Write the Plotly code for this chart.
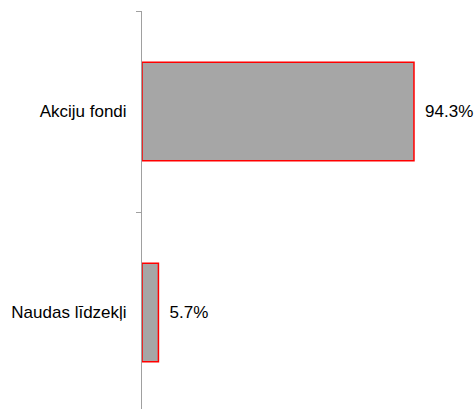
import plotly.graph_objects as go

categories = ["Akciju fondi", "Naudas līdzekļi"]
values = [94.3, 5.7]
labels = ["94.3%", "5.7%"]

fig = go.Figure(
    go.Bar(
        x=values,
        y=categories,
        orientation="h",
        text=["\u00a0\u2009" + t for t in labels],
        textposition="outside",
        cliponaxis=False,
        textfont=dict(family="Liberation Sans, Arial", size=17, color="black"),
        marker=dict(color="#A6A6A6", line=dict(color="#FF0000", width=1.5)),
        hoverinfo="skip",
    )
)

fig.update_layout(
    width=476,
    height=413,
    margin=dict(l=142, r=0, t=11, b=0),
    paper_bgcolor="white",
    plot_bgcolor="white",
    bargap=0.51,
    showlegend=False,
    font=dict(family="Liberation Sans, Arial", size=17, color="black"),
    xaxis=dict(
        range=[0, 115.8],
        visible=False,
        showgrid=False,
        zeroline=False,
    ),
    yaxis=dict(
        type="category",
        autorange="reversed",
        showline=True,
        linecolor="#A0A0A0",
        linewidth=1,
        ticks="outside",
        tickson="boundaries",
        ticklen=5,
        tickcolor="#A0A0A0",
        tickwidth=1,
        showgrid=False,
        zeroline=False,
        ticklabelstandoff=11,
        tickfont=dict(family="Liberation Sans, Arial", size=17, color="black"),
    ),
)

fig.write_html(
    "out.html",
    config={"displayModeBar": False, "staticPlot": True},
    post_script="document.body.style.margin='0';document.body.style.overflow='hidden';",
)
